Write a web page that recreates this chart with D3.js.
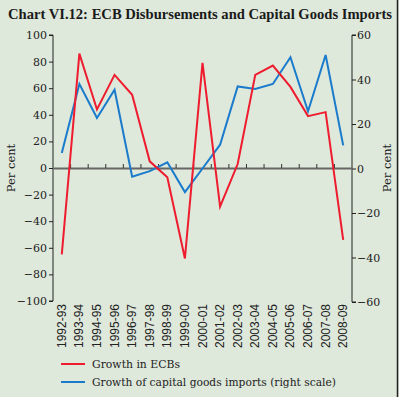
<!DOCTYPE html>
<html><head><meta charset="utf-8">
<script src="https://cdn.jsdelivr.net/npm/d3@7"></script>
<style>body{margin:0;background:#dde8da;}svg{display:block;}</style>
</head><body>
<script>
const categories = ["1992-93","1993-94","1994-95","1995-96","1996-97","1997-98","1998-99","1999-00","2000-01","2001-02","2002-03","2003-04","2004-05","2005-06","2006-07","2007-08","2008-09"];
const ecbGrowth = [-65, 86, 44, 70, 55, 5, -7, -68, 79, -29, 3, 70, 77, 61, 39, 42, -54];
const capGoodsGrowth = [7, 38, 22.7, 35.4, -3.7, -1.2, 2.8, -10.6, 0, 10.7, 36.9, 35.7, 38, 50, 25.7, 51, 10.4];
const leftTicks = [100, 80, 60, 40, 20, 0, -20, -40, -60, -80, -100];
const rightTicks = [60, 40, 20, 0, -20, -40, -60];

const W = 399, H = 397;
const svg = d3.select("body").append("svg").attr("width", W).attr("height", H);
svg.append("rect").attr("width", W).attr("height", H).attr("fill", "#dee8db");
svg.append("line").attr("x1", 397.5).attr("x2", 397.5).attr("y1", 0).attr("y2", H).attr("stroke", "#222").attr("stroke-width", 1.5);

const serif = "'DejaVu Serif', 'Liberation Serif', serif";
const x0 = 53, x1 = 352, yTop = 35, yBot = 301;
const x = d3.scaleBand().domain(categories).range([x0, x1]);
const yL = d3.scaleLinear().domain([-100, 100]).range([yBot, yTop]);
const yR = d3.scaleLinear().domain([-60, 60]).range([yBot + 1, yTop]);

svg.append("text").attr("x", 8).attr("y", 19).attr("font-family", "'Liberation Serif', serif").attr("font-weight", "bold")
  .attr("font-size", 14).attr("fill", "#1a1a1a").attr("textLength", 384).attr("lengthAdjust", "spacingAndGlyphs")
  .text("Chart VI.12: ECB Disbursements and Capital Goods Imports");

// left axis
const gL = svg.append("g").attr("transform", `translate(${x0},0)`)
  .call(d3.axisLeft(yL).tickValues(leftTicks).tickSize(4).tickPadding(2).tickFormat(d3.format("d")));
gL.select(".domain").attr("d", `M-4,${yTop}H0V${yBot}H-4`);
gL.selectAll("text").attr("font-family", serif).attr("font-size", 11).attr("fill", "#222");
gL.selectAll("line,path").attr("stroke", "#222");

// right axis
const gR = svg.append("g").attr("transform", `translate(${x1},0)`)
  .call(d3.axisRight(yR).tickValues(rightTicks).tickSize(4).tickPadding(1).tickFormat(d3.format("d")));
gR.select(".domain").attr("d", `M4,${yTop}H0V${yBot+1}H4`);
gR.selectAll("text").attr("font-family", serif).attr("font-size", 11).attr("fill", "#222");
gR.selectAll("line,path").attr("stroke", "#222");

// zero line with ticks at category boundaries
const gX = svg.append("g").attr("transform", `translate(0,${yL(0)})`)
  .call(d3.axisTop(x).tickSize(0).tickFormat(""));
gX.select(".domain").attr("stroke", "#666").attr("stroke-width", 2);
const bounds = categories.slice(1).map(c => x(c));
gX.selectAll(".bt").data(bounds).enter().append("line").attr("class", "bt")
  .attr("x1", d => d).attr("x2", d => d).attr("y1", 0).attr("y2", -4).attr("stroke", "#333");

// x labels
const gB = svg.append("g");
gB.selectAll("text").data(categories).enter().append("text")
  .attr("transform", d => `translate(${x(d) + x.bandwidth()/2 + 4},${yBot + 3}) rotate(-90)`)
  .attr("text-anchor", "end").attr("font-family", "'Liberation Sans', Arial, sans-serif")
  .attr("font-size", 12).attr("fill", "#222").text(d => d);

// axis titles
svg.append("text").attr("transform", `translate(15,168) rotate(-90)`).attr("text-anchor", "middle")
  .attr("font-family", serif).attr("font-size", 11.5).attr("fill", "#222").text("Per cent");
svg.append("text").attr("transform", `translate(391,168) rotate(-90)`).attr("text-anchor", "middle")
  .attr("font-family", serif).attr("font-size", 11.5).attr("fill", "#222").text("Per cent");

// lines
const cx = c => x(c) + x.bandwidth()/2;
svg.append("path").datum(capGoodsGrowth)
  .attr("d", d3.line().x((d, i) => cx(categories[i])).y(d => yR(d)))
  .attr("fill", "none").attr("stroke", "#1a7bcc").attr("stroke-width", 2);
svg.append("path").datum(ecbGrowth)
  .attr("d", d3.line().x((d, i) => cx(categories[i])).y(d => yL(d)))
  .attr("fill", "none").attr("stroke", "#ee1c2e").attr("stroke-width", 2);

// legend
const legend = [{t: "Growth in ECBs", c: "#ee1c2e", w: 88}, {t: "Growth of capital goods imports (right scale)", c: "#1a7bcc", w: 244}];
const lg = svg.append("g");
legend.forEach((l, i) => {
  const yy = 364 + i * 18;
  lg.append("line").attr("x1", 61).attr("x2", 85).attr("y1", yy).attr("y2", yy).attr("stroke", l.c).attr("stroke-width", 2);
  lg.append("text").attr("x", 92).attr("y", yy + 4).attr("font-family", serif).attr("font-size", 11.5)
    .attr("textLength", l.w).attr("lengthAdjust", "spacingAndGlyphs")
    .attr("fill", "#222").text(l.t);
});
</script>
</body></html>
